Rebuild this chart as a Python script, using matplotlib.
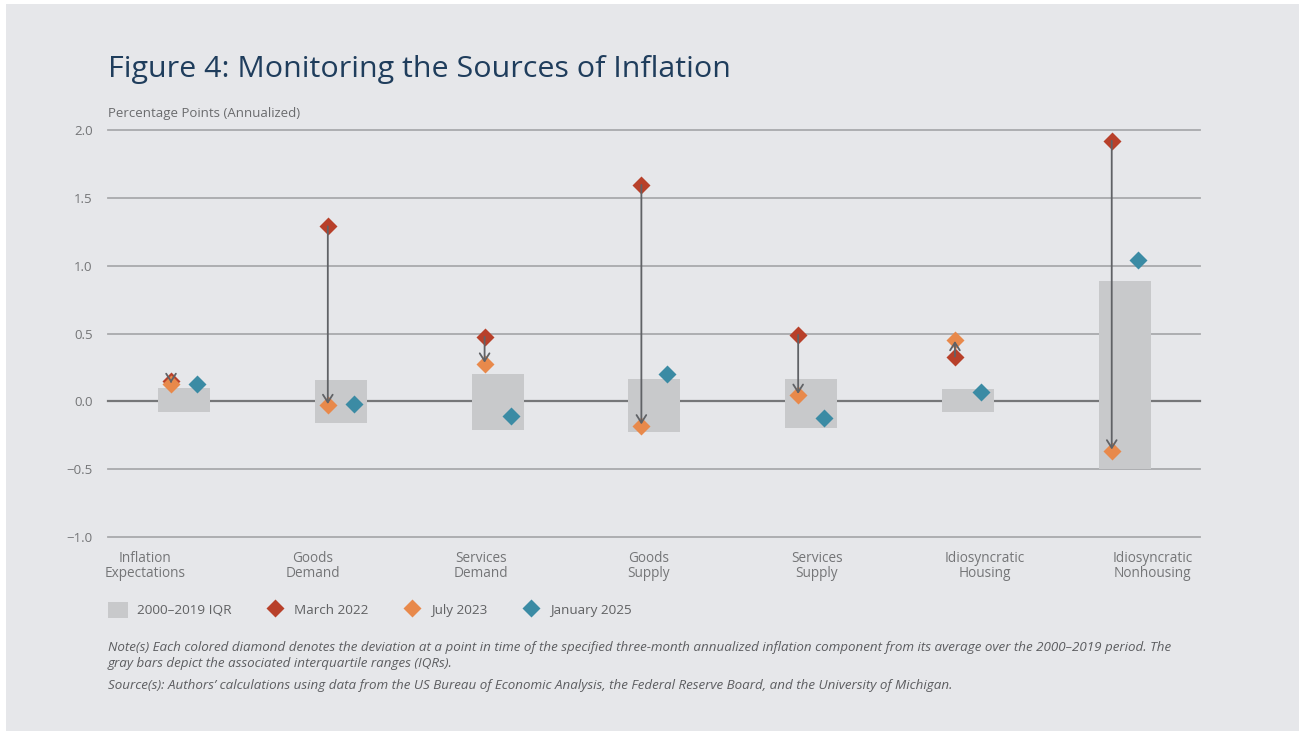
import matplotlib
matplotlib.use("Agg")
import matplotlib.pyplot as plt
from matplotlib.patches import Rectangle, Patch
from matplotlib.lines import Line2D
import numpy as np

plt.rcParams['font.family'] = ['Open Sans', 'DejaVu Sans']

categories = ["Inflation\nExpectations", "Goods\nDemand", "Services\nDemand", "Goods\nSupply",
              "Services\nSupply", "Idiosyncratic\nHousing", "Idiosyncratic\nNonhousing"]
iqr_low = [-0.08, -0.16, -0.21, -0.225, -0.195, -0.075, -0.50]
iqr_high = [0.10, 0.16, 0.20, 0.165, 0.165, 0.09, 0.89]
march_2022 = [0.15, 1.29, 0.475, 1.595, 0.49, 0.33, 1.92]
july_2023 = [0.125, -0.03, 0.275, -0.18, 0.045, 0.455, -0.365]
jan_2025 = [0.13, -0.02, -0.11, 0.205, -0.12, 0.07, 1.045]
yticks = [2.0, 1.5, 1.0, 0.5, 0.0, -0.5, -1.0]
ytick_labels = ["2.0", "1.5", "1.0", "0.5", "0.0", "\u22120.5", "\u22121.0"]

BG = "#e6e7ea"
BAR = "#c8c9cb"
C_MAR = "#b8402a"
C_JUL = "#e8894b"
C_JAN = "#3b8ba4"
ARROW = "#606266"
TXT = "#747577"

W, H = 1299, 731
fig = plt.figure(figsize=(W / 100, H / 100), dpi=100, facecolor="white")
fig.patches.append(Rectangle((6 / W, 0), 1 - 6 / W, 1 - 4 / H, transform=fig.transFigure,
                             facecolor=BG, edgecolor="none", zorder=-10))

ax = fig.add_axes([108 / W, 1 - 537 / H, (1200 - 108) / W, (537 - 130) / H])
ax.set_facecolor("none")
for s in ax.spines.values():
    s.set_visible(False)

n = len(categories)
x = np.arange(n)
off = 0.083
bw = 0.332
ax.set_xlim(-0.485, 6.48)
ax.set_ylim(-1.0, 2.0)

for yv in yticks:
    if yv == 0:
        ax.axhline(yv, color="#767779", lw=1.6, zorder=1, clip_on=False)
    else:
        ax.axhline(yv, color="#a9aaac", lw=1.3, zorder=1, clip_on=False)

lows = np.array(iqr_low)
highs = np.array(iqr_high)
ax.bar(x, highs - lows, bottom=lows, width=bw, color=BAR, zorder=2)

ms = 9
ax.plot(x - off, march_2022, ls="none", marker="D", ms=ms, color=C_MAR, mec="none", zorder=3)
ax.plot(x - off, july_2023, ls="none", marker="D", ms=ms, color=C_JUL, mec="none", zorder=4)
ax.plot(x + off, jan_2025, ls="none", marker="D", ms=ms, color=C_JAN, mec="none", zorder=4)

for i in range(n):
    ax.annotate("", xy=(x[i] - off, july_2023[i]), xytext=(x[i] - off, march_2022[i]),
                arrowprops=dict(arrowstyle="->,head_length=0.55,head_width=0.35", color=ARROW,
                                lw=1.3, shrinkA=0, shrinkB=1),
                zorder=5)

ax.set_yticks(yticks)
ax.set_yticklabels(ytick_labels)
ax.tick_params(axis="y", length=0, pad=11, labelsize=9.5, labelcolor=TXT)

label_pos = -0.249 + 1.0714 * x
ax.set_xticks(label_pos)
ax.set_xticklabels(categories, linespacing=1.0)
ax.tick_params(axis="x", length=0, pad=10, labelsize=9.8, labelcolor=TXT)

fig.text(108 / W, 1 - 69 / H, "Figure 4: Monitoring the Sources of Inflation", fontsize=21.9,
         color="#1f3d5c", va="center", ha="left")
fig.text(108 / W, 1 - 113 / H, "Percentage Points (Annualized)", fontsize=9.5,
         color="#6a6b6d", va="center", ha="left")

handles = [Patch(facecolor=BAR, edgecolor="none"),
           Line2D([], [], ls="none", marker="D", ms=ms, color=C_MAR, mec="none"),
           Line2D([], [], ls="none", marker="D", ms=ms, color=C_JUL, mec="none"),
           Line2D([], [], ls="none", marker="D", ms=ms, color=C_JAN, mec="none")]
labels = ["2000\u20132019 IQR", "March 2022", "July 2023", "January 2025"]
leg = fig.legend(handles, labels, loc="center left", bbox_to_anchor=(108 / W, 1 - 610 / H),
                 ncol=4, frameon=False, fontsize=9.7, handlelength=1.5, handleheight=1.5,
                 handletextpad=0.65, columnspacing=2.5, borderpad=0, borderaxespad=0)
for t in leg.get_texts():
    t.set_color("#606163")

note_kw = dict(fontsize=9.65, color="#5c5d60", style="italic", ha="left", va="center")
fig.text(108 / W, 1 - 647 / H,
         "Note(s) Each colored diamond denotes the deviation at a point in time of the specified three-month "
         "annualized inflation component from its average over the 2000\u20132019 period. The", **note_kw)
fig.text(108 / W, 1 - 664 / H, "gray bars depict the associated interquartile ranges (IQRs).", **note_kw)
fig.text(108 / W, 1 - 686 / H,
         "Source(s): Authors\u2019 calculations using data from the US Bureau of Economic Analysis, "
         "the Federal Reserve Board, and the University of Michigan.", **note_kw)

fig.savefig("out.png", dpi=100, facecolor="white")
